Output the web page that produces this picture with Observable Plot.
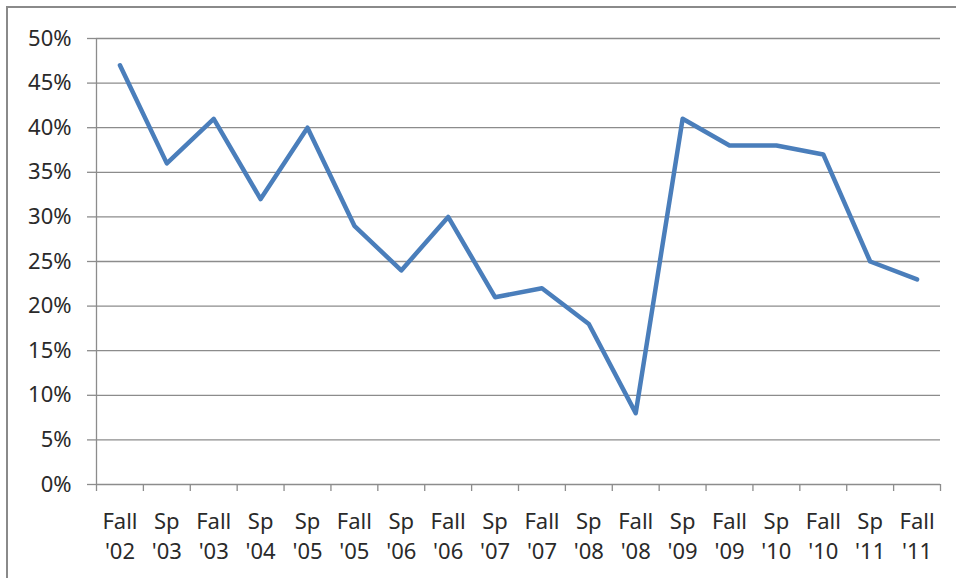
<!DOCTYPE html>
<html>
<head>
<meta charset="utf-8">
<script src="https://cdn.jsdelivr.net/npm/d3@7"></script>
<script src="https://cdn.jsdelivr.net/npm/@observablehq/plot@0.6"></script>
<style>
  html, body { margin: 0; padding: 0; background: #fff; overflow: hidden; width: 956px; height: 578px; }
  #wrap { position: relative; width: 956px; height: 578px; }
  #frame { position: absolute; left: 6px; top: 6px; width: 1200px; height: 1200px;
           border-left: 2.5px solid #8a8a8a; border-top: 2.5px solid #8a8a8a; pointer-events: none; }
  #chart { position: absolute; left: 0; top: 0; }
</style>
</head>
<body>
<div id="wrap"><div id="chart"></div><div id="frame"></div></div>
<script>
const categories = ["Fall\n'02", "Sp\n'03", "Fall\n'03", "Sp\n'04", "Sp\n'05", "Fall\n'05", "Sp\n'06", "Fall\n'06", "Sp\n'07", "Fall\n'07", "Sp\n'08", "Fall\n'08", "Sp\n'09", "Fall\n'09", "Sp\n'10", "Fall\n'10", "Sp\n'11", "Fall\n'11"];
const values = [0.47, 0.36, 0.41, 0.32, 0.40, 0.29, 0.24, 0.30, 0.21, 0.22, 0.18, 0.08, 0.41, 0.38, 0.38, 0.37, 0.25, 0.23];
const yTicks = [0, 0.05, 0.10, 0.15, 0.20, 0.25, 0.30, 0.35, 0.40, 0.45, 0.50];

const data = categories.map((c, i) => ({i, label: c, v: values[i]}));
const centers = categories.map((c, i) => i);
const boundaries = d3.range(categories.length + 1).map(i => i - 0.5);
const gray = "#8c8c8c";
const font = "'Noto Sans', 'Open Sans', sans-serif";

const chart = Plot.plot({
  width: 956,
  height: 578,
  marginLeft: 96,
  marginRight: 16,
  marginTop: 38,
  marginBottom: 94,
  style: {fontFamily: font, fontSize: "22px", color: "#262626", background: "transparent"},
  x: {type: "linear", domain: [-0.5, categories.length - 0.5], axis: null},
  y: {type: "linear", domain: [0, 0.5], axis: null},
  marks: [
    Plot.gridY(yTicks, {stroke: gray, strokeOpacity: 1, strokeWidth: 1.3}),
    Plot.axisY({ticks: yTicks, tickFormat: d3.format(".0%"), tickSize: 9, tickPadding: 16,
                stroke: gray, strokeWidth: 1.3, fontSize: 22, fill: "#2a2a2a", label: null}),
    Plot.ruleX([-0.5], {y1: 0, y2: 0.5, stroke: gray, strokeWidth: 1.3}),
    Plot.axisX({ticks: boundaries, tickFormat: () => "", tickSize: 7, stroke: gray, strokeWidth: 1.3, label: null}),
    Plot.axisX({ticks: centers, tickFormat: i => categories[i], tickSize: 0, tickPadding: 23,
                lineHeight: 1.36, fontSize: 22, fill: "#2a2a2a", label: null}),
    Plot.line(data, {x: "i", y: "v", stroke: "#4a7ebb", strokeWidth: 4.5, strokeLinejoin: "round", strokeLinecap: "round"})
  ]
});
document.getElementById("chart").appendChild(chart);
</script>
</body>
</html>
